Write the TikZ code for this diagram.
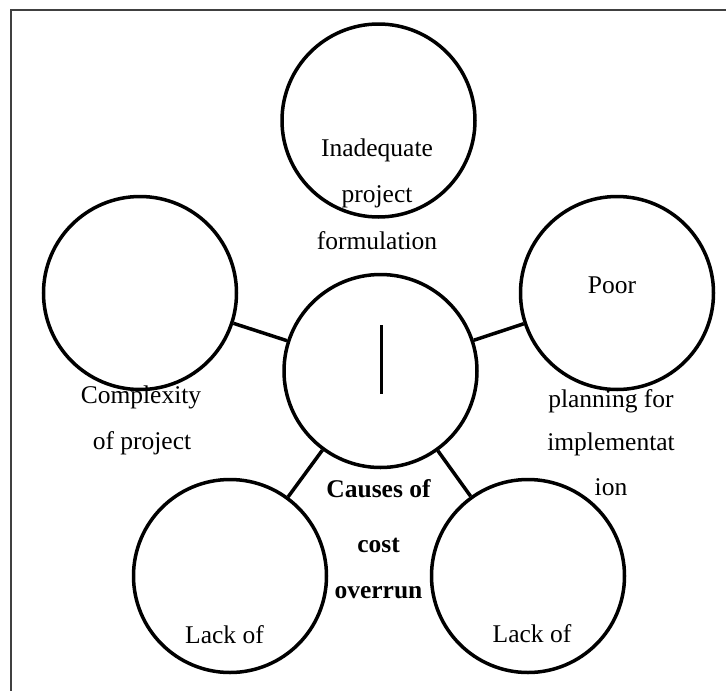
\documentclass[tikz,border=0pt]{standalone}
\usepackage{fontspec}
\setmainfont{Liberation Serif}
\begin{document}
\begin{tikzpicture}[x=1pt,y=-1pt,
  bubble/.style={draw=black,circle,line width=3.5pt,minimum size=193pt,inner sep=0pt},
  link/.style={line width=3.5pt},
  lbl/.style={anchor=base,inner sep=0pt,font=\fontsize{25.5}{30}\selectfont},
  blbl/.style={lbl,font=\fontsize{25.5}{30}\selectfont\bfseries}]
\useasboundingbox (0,0) rectangle (726,691);
\draw[line width=2pt,black!75] (11,691) -- (11,10) -- (726,10);
% circles
\node[bubble] (top) at (378.5,120.5) {};
\node[bubble] (ctr) at (380.5,371) {};
\node[bubble] (lft) at (140,293) {};
\node[bubble] (rgt) at (617,293) {};
\node[bubble] (bl) at (230,576) {};
\node[bubble] (br) at (528,576) {};
% connectors
\draw[link] (lft) -- (ctr);
\draw[link] (rgt) -- (ctr);
\draw[link] (bl) -- (ctr);
\draw[link] (br) -- (ctr);
% vertical bar
\coordinate (bara) at (381.5,325);
\coordinate (barb) at (381.5,394);
\draw[line width=3pt] (bara) -- (barb);
% labels
\node[lbl] (t1) at (377,156) {Inadequate};
\node[lbl] (t2) at (377,202) {project};
\node[lbl] (t3) at (377,249) {formulation};
\node[lbl] (p1) at (612,293) {Poor};
\node[lbl] (p2) at (611,407) {planning for};
\node[lbl] (p3) at (611,450) {implementat};
\node[lbl] (p4) at (611,495) {ion};
\node[lbl] (c1) at (141,403) {Complexity};
\node[lbl] (c2) at (142,449) {of project};
\node[blbl] (m1) at (378.5,497) {Causes of};
\node[blbl] (m2) at (378.5,552) {cost};
\node[blbl] (m3) at (378.5,598) {overrun};
\node[lbl] (l1) at (224.5,643) {Lack of};
\node[lbl] (l2) at (532,642) {Lack of};
\end{tikzpicture}
\end{document}
